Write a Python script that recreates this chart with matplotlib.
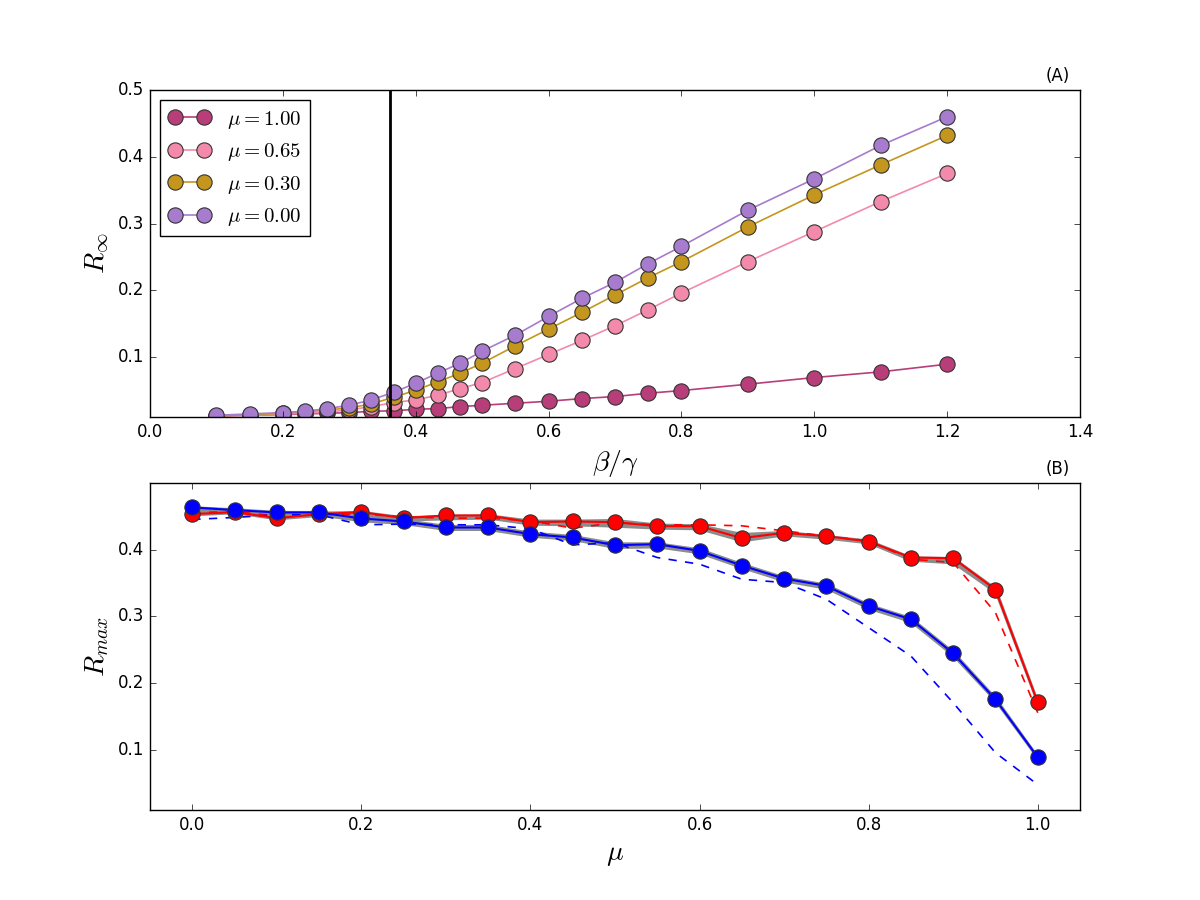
import matplotlib
matplotlib.use('Agg')
import matplotlib.pyplot as plt

plt.style.use('classic')

#%% Data - panel A
beta_gamma = [0.1, 0.15, 0.2, 0.233, 0.267, 0.3, 0.333, 0.367, 0.4, 0.433, 0.467,
              0.5, 0.55, 0.6, 0.65, 0.7, 0.75, 0.8, 0.9, 1.0, 1.1, 1.2]

r_mu100 = [0.012, 0.013, 0.014, 0.015, 0.016, 0.017, 0.019, 0.0196, 0.022, 0.023, 0.026,
           0.028, 0.031, 0.034, 0.038, 0.041, 0.046, 0.050, 0.0595, 0.0695, 0.078, 0.0895]
r_mu065 = [0.012, 0.013, 0.015, 0.016, 0.018, 0.021, 0.026, 0.032, 0.036, 0.043, 0.053,
           0.062, 0.083, 0.104, 0.125, 0.147, 0.171, 0.196, 0.243, 0.288, 0.333, 0.375]
r_mu030 = [0.012, 0.014, 0.016, 0.018, 0.021, 0.024, 0.030, 0.040, 0.0505, 0.063, 0.076,
           0.091, 0.117, 0.142, 0.167, 0.193, 0.219, 0.243, 0.295, 0.343, 0.388, 0.432]
r_mu000 = [0.013, 0.015, 0.017, 0.019, 0.023, 0.028, 0.036, 0.0475, 0.061, 0.076, 0.091,
           0.109, 0.133, 0.161, 0.188, 0.212, 0.240, 0.266, 0.320, 0.367, 0.417, 0.460]

threshold = 0.362

series_a = [(r_mu100, '#b83e79', r'$\mu=1.00$'),
            (r_mu065, '#f48aab', r'$\mu=0.65$'),
            (r_mu030, '#c4961e', r'$\mu=0.30$'),
            (r_mu000, '#a77bcd', r'$\mu=0.00$')]

#%% Data - panel B
mu = [0.0, 0.05, 0.1, 0.15, 0.2, 0.25, 0.3, 0.35, 0.4, 0.45, 0.5,
      0.55, 0.6, 0.65, 0.7, 0.75, 0.8, 0.85, 0.9, 0.95, 1.0]

red = [0.453, 0.456, 0.447, 0.453, 0.456, 0.447, 0.451, 0.451, 0.441, 0.442, 0.441,
       0.435, 0.435, 0.417, 0.425, 0.420, 0.412, 0.388, 0.387, 0.340, 0.171]
red_lo = [0.452, 0.455, 0.446, 0.451, 0.451, 0.444, 0.446, 0.447, 0.438, 0.437, 0.435,
          0.432, 0.431, 0.413, 0.422, 0.417, 0.410, 0.384, 0.380, 0.336, 0.168]
red_hi = [0.459, 0.459, 0.452, 0.456, 0.457, 0.449, 0.451, 0.452, 0.444, 0.444, 0.445,
          0.438, 0.437, 0.424, 0.427, 0.421, 0.414, 0.389, 0.388, 0.342, 0.172]
red_dash = [0.455, 0.457, 0.450, 0.452, 0.453, 0.449, 0.447, 0.447, 0.443, 0.432, 0.440,
            0.437, 0.437, 0.4355, 0.428, 0.420, 0.413, 0.3855, 0.3805, 0.3055, 0.1556]

blue = [0.463, 0.459, 0.4555, 0.4555, 0.4465, 0.442, 0.433, 0.433, 0.423, 0.418, 0.4065,
        0.408, 0.398, 0.376, 0.3565, 0.3455, 0.3155, 0.2955, 0.2445, 0.1756, 0.089]
blue_lo = [0.459, 0.456, 0.452, 0.452, 0.443, 0.439, 0.430, 0.430, 0.420, 0.415, 0.403,
           0.404, 0.395, 0.373, 0.353, 0.342, 0.312, 0.292, 0.241, 0.173, 0.087]
blue_hi = [0.464, 0.461, 0.457, 0.457, 0.449, 0.445, 0.436, 0.436, 0.426, 0.421, 0.410,
           0.410, 0.401, 0.379, 0.359, 0.348, 0.318, 0.298, 0.247, 0.178, 0.090]
blue_dash = [0.445, 0.448, 0.452, 0.452, 0.437, 0.438, 0.437, 0.437, 0.431, 0.407, 0.410,
             0.388, 0.378, 0.3555, 0.3505, 0.3255, 0.283, 0.2405, 0.1706, 0.0957, 0.048]

#%% Plot
fig, axes = plt.subplots(nrows=2, ncols=1, figsize=(12, 9), dpi=100)
fig.subplots_adjust(left=0.125, right=0.9, bottom=0.1, top=0.9, hspace=0.2)

ax = axes[0]
for vals, col, lab in series_a:
    ax.plot(beta_gamma, vals, '-o', color=col, markerfacecolor=col,
            markeredgecolor='0.2', markeredgewidth=0.8, markersize=11,
            linewidth=1.2, label=lab)
ax.axvline(threshold, color='k', linewidth=2)
ax.set_xlim(0.0, 1.4)
ax.set_ylim(0.01, 0.5)
ax.set_yticks([0.1, 0.2, 0.3, 0.4, 0.5])
ax.set_xlabel(r'$\beta/\gamma$', fontsize=20)
ax.set_ylabel(r'$R_\infty$', fontsize=20)
ax.text(0.989, 1.015, '(A)', transform=ax.transAxes, ha='right', va='bottom', fontsize=12)
ax.legend(loc='upper left', numpoints=2, fontsize=15)

ax = axes[1]
ax.fill_between(mu, red_lo, red_hi, color='0.55', linewidth=1.5, edgecolor='0.55')
ax.fill_between(mu, blue_lo, blue_hi, color='0.55', linewidth=1.5, edgecolor='0.55')
ax.plot(mu, red_dash, '--', color='red', linewidth=1.2)
ax.plot(mu, blue_dash, '--', color='blue', linewidth=1.2)
ax.plot(mu, red, '-o', color='red', linewidth=1.5, markersize=11,
        markeredgecolor='0.2', markeredgewidth=0.8)
ax.plot(mu, blue, '-o', color='blue', linewidth=1.5, markersize=11,
        markeredgecolor='0.2', markeredgewidth=0.8)
ax.set_xlim(-0.05, 1.05)
ax.set_ylim(0.01, 0.5)
ax.set_yticks([0.1, 0.2, 0.3, 0.4])
ax.set_xlabel(r'$\mu$', fontsize=20)
ax.set_ylabel(r'$R_{max}$', fontsize=20)
ax.text(0.989, 1.015, '(B)', transform=ax.transAxes, ha='right', va='bottom', fontsize=12)

fig.savefig('out.png', dpi=100, facecolor='white')
